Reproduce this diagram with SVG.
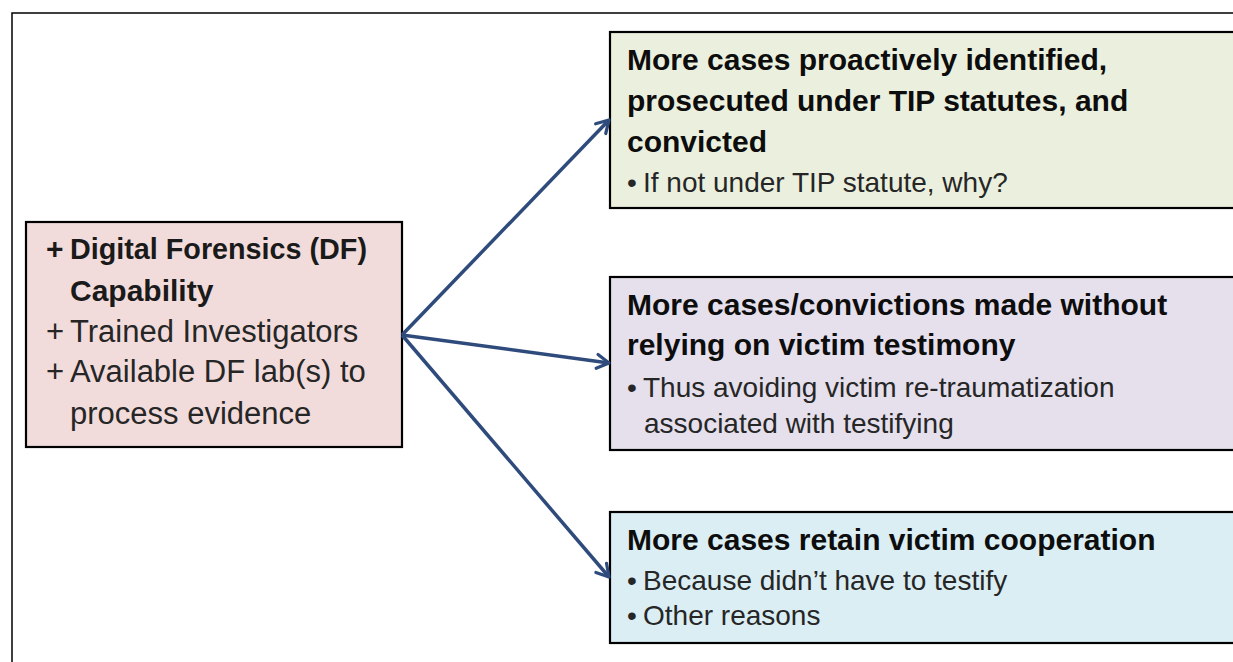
<svg xmlns="http://www.w3.org/2000/svg" width="1233" height="662" viewBox="0 0 1233 662">
  <defs>
    <style>
      .frame { fill: #ffffff; stroke: #000000; stroke-width: 1.5; }
      .box { stroke: #000000; stroke-width: 2.2; }
      .pink { fill: #f2dcdb; }
      .green { fill: #ebf0de; }
      .purple { fill: #e5e0ec; }
      .blue { fill: #dbeef4; }
      .h { font-family: "Liberation Sans", Arial, sans-serif; font-weight: bold; font-size: 30px; fill: #0d0d0d; }
      .b { font-family: "Liberation Sans", Arial, sans-serif; font-size: 28px; fill: #262626; }
      .lh { font-family: "Liberation Sans", Arial, sans-serif; font-weight: bold; font-size: 30px; fill: #1a1a1a; }
      .lb { font-family: "Liberation Sans", Arial, sans-serif; font-size: 31px; fill: #262626; }
      .conn { fill: none; stroke: #2f4b7c; stroke-width: 3.5; }
    </style>
    <marker id="arrowhead" markerUnits="userSpaceOnUse" viewBox="0 0 18 18" markerWidth="18" markerHeight="18" refX="15" refY="9" orient="auto">
      <path d="M3,2 L15,9 L3,16" fill="none" stroke="#2f4b7c" stroke-width="3.2" stroke-linecap="round" stroke-linejoin="round"/>
    </marker>
  </defs>

  <!-- page frame, open to the right and bottom -->
  <rect class="frame" x="12" y="13" width="1300" height="700"/>

  <!-- source: capability -->
  <g id="node-capability">
    <rect class="box pink" x="26" y="222" width="376" height="225"/>
    <text class="lh" x="46" y="259">+</text>
    <text class="lh" x="70" y="259" textLength="297" lengthAdjust="spacingAndGlyphs">Digital Forensics (DF)</text>
    <text class="lh" x="70" y="301">Capability</text>
    <text class="lb" x="46" y="342">+</text>
    <text class="lb" x="70" y="342">Trained Investigators</text>
    <text class="lb" x="46" y="382">+</text>
    <text class="lb" x="70" y="382">Available DF lab(s) to</text>
    <text class="lb" x="70" y="424">process evidence</text>
  </g>

  <!-- outcome: prosecutions -->
  <g id="node-prosecutions">
    <rect class="box green" x="610" y="32" width="700" height="176"/>
    <text class="h" x="627" y="70">More cases proactively identified,</text>
    <text class="h" x="627" y="111">prosecuted under TIP statutes, and</text>
    <text class="h" x="627" y="152">convicted</text>
    <text class="b" x="627" y="192">•</text>
    <text class="b" x="643" y="192">If not under TIP statute, why?</text>
  </g>

  <!-- outcome: convictions without testimony -->
  <g id="node-testimony">
    <rect class="box purple" x="610" y="277" width="700" height="173"/>
    <text class="h" x="627" y="315">More cases/convictions made without</text>
    <text class="h" x="627" y="355">relying on victim testimony</text>
    <text class="b" x="627" y="397">•</text>
    <text class="b" x="643" y="397">Thus avoiding  victim re-traumatization</text>
    <text class="b" x="644" y="433">associated with testifying</text>
  </g>

  <!-- outcome: victim cooperation -->
  <g id="node-cooperation">
    <rect class="box blue" x="610" y="512" width="700" height="131"/>
    <text class="h" x="627" y="550">More cases retain victim cooperation</text>
    <text class="b" x="627" y="590">•</text>
    <text class="b" x="643" y="590">Because didn’t have to testify</text>
    <text class="b" x="627" y="625">•</text>
    <text class="b" x="643" y="625">Other reasons</text>
  </g>

  <!-- connectors -->
  <g id="connectors">
    <line class="conn" x1="402" y1="335" x2="609" y2="120" marker-end="url(#arrowhead)"/>
    <line class="conn" x1="402" y1="335" x2="609" y2="363" marker-end="url(#arrowhead)"/>
    <line class="conn" x1="402" y1="335" x2="609" y2="577" marker-end="url(#arrowhead)"/>
  </g>
</svg>
